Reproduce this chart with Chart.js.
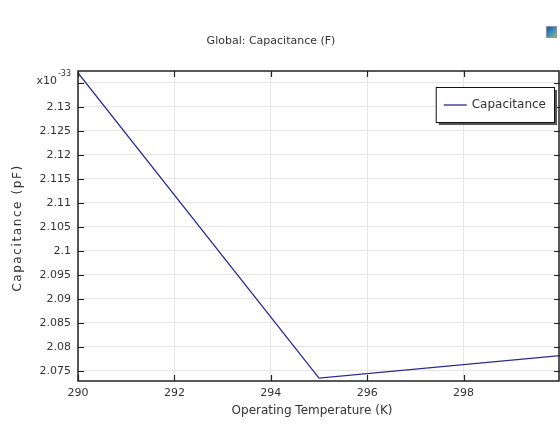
<!DOCTYPE html>
<html>
<head>
<meta charset="utf-8">
<script src="https://cdn.jsdelivr.net/npm/chart.js@4.4.1/dist/chart.umd.min.js"></script>
<style>
    html, body { margin: 0; padding: 0; background: #fff; }
    #wrap { position: relative; width: 560px; height: 427px; }
    #icon {
        position: absolute; left: 546px; top: 26px; width: 9px; height: 10px;
        border: 1px solid #8a96a8;
        background: linear-gradient(135deg, #1f4fa0 0%, #3a8fc0 50%, #8cc05a 100%);
    }
</style>
</head>
<body>
<div id="wrap">
    <canvas id="chart" width="560" height="427"></canvas>
    <div id="icon"></div>
</div>
<script>
// Data (values in units of 1e-33)
const temperatures = [290, 295, 300];
const capacitance = [2.1371, 2.0735, 2.0782];

const xTicks = [290, 292, 294, 296, 298, 300];
const yTicks = [2.075, 2.08, 2.085, 2.09, 2.095, 2.1, 2.105, 2.11, 2.115, 2.12, 2.125, 2.13, 2.135];

const chartTitle = "Global: Capacitance (F)";
const xTitle = "Operating Temperature (K)";
const yTitle = "Capacitance (pF)";
const seriesName = "Capacitance";

const FONT = "'DejaVu Sans', sans-serif";
const TEXT = "#333";

// frame, inward ticks, titles and legend (COMSOL style)
const decorPlugin = {
    id: "decor",
    afterDraw(chart) {
        const ctx = chart.ctx;
        const a = chart.chartArea;
        const xs = chart.scales.x;
        const ys = chart.scales.y;
        ctx.save();

        // inward tick marks on all four sides
        ctx.strokeStyle = "#222";
        ctx.lineWidth = 1.2;
        ctx.beginPath();
        xTicks.forEach((v) => {
            const px = Math.round(xs.getPixelForValue(v)) + 0.5;
            ctx.moveTo(px, a.bottom); ctx.lineTo(px, a.bottom - 6);
            ctx.moveTo(px, a.top); ctx.lineTo(px, a.top + 6);
        });
        yTicks.forEach((v) => {
            const py = Math.round(ys.getPixelForValue(v)) + 0.5;
            ctx.moveTo(a.left, py); ctx.lineTo(a.left + 6, py);
            ctx.moveTo(a.right, py); ctx.lineTo(a.right - 6, py);
        });
        ctx.stroke();

        // frame
        ctx.lineWidth = 1.5;
        ctx.strokeRect(a.left, a.top, a.right - a.left - 1, a.bottom - a.top);

        // exponent label at the top y tick
        const ey = ys.getPixelForValue(yTicks[yTicks.length - 1]);
        ctx.fillStyle = TEXT;
        ctx.textBaseline = "middle";
        ctx.textAlign = "right";
        ctx.font = "8px " + FONT;
        const supW = ctx.measureText("-33").width;
        ctx.fillText("-33", a.left - 7, ey - 9);
        ctx.font = "11px " + FONT;
        ctx.fillText("x10", a.left - 8 - supW, ey - 2);

        // chart title
        ctx.font = "11px " + FONT;
        ctx.textAlign = "center";
        ctx.fillText(chartTitle, 271, 41);

        // x axis title
        ctx.font = "12px " + FONT;
        ctx.fillText(xTitle, 312, 411);

        // y axis title, rotated and letter spaced
        ctx.save();
        ctx.translate(18, 228);
        ctx.rotate(-Math.PI / 2);
        ctx.font = "12px " + FONT;
        if ("letterSpacing" in ctx) ctx.letterSpacing = "1.6px";
        ctx.fillText(yTitle, 0, 0);
        ctx.restore();

        // legend box with shadow
        const ds = chart.data.datasets[0];
        ctx.font = "12px " + FONT;
        const tw = ctx.measureText(ds.label).width;
        const w = 8 + 23 + 5 + tw + 8;
        const h = 35;
        const lx = a.right - 6 - w;
        const ly = a.top + 16;
        ctx.fillStyle = "#555";
        ctx.fillRect(lx + 3, ly + 3, w, h);
        ctx.fillStyle = "#fff";
        ctx.fillRect(lx, ly, w, h);
        ctx.lineWidth = 1;
        ctx.strokeStyle = "#111";
        ctx.strokeRect(lx + 0.5, ly + 0.5, w, h);
        ctx.strokeStyle = ds.borderColor;
        ctx.lineWidth = 1.3;
        ctx.beginPath();
        ctx.moveTo(lx + 8, ly + h / 2 + 0.5);
        ctx.lineTo(lx + 31, ly + h / 2 + 0.5);
        ctx.stroke();
        ctx.fillStyle = TEXT;
        ctx.textAlign = "left";
        ctx.fillText(ds.label, lx + 36, ly + h / 2);

        ctx.restore();
    }
};

new Chart(document.getElementById("chart"), {
    type: "line",
    data: {
        datasets: [{
            label: seriesName,
            data: temperatures.map((t, i) => ({ x: t, y: capacitance[i] })),
            borderColor: "#2a2a90",
            borderWidth: 1.3,
            pointRadius: 0,
            tension: 0,
            fill: false
        }]
    },
    options: {
        responsive: false,
        animation: false,
        layout: { padding: { top: 71, right: 0, left: 0, bottom: 0 } },
        plugins: {
            legend: { display: false },
            title: { display: false },
            tooltip: { enabled: false }
        },
        scales: {
            x: {
                type: "linear",
                min: 290,
                max: 300,
                afterFit: (scale) => {
                    scale.height = 46;
                    scale.paddingRight = 0;
                    scale.paddingLeft = 0;
                },
                afterBuildTicks: (scale) => { scale.ticks = xTicks.map((v) => ({ value: v })); },
                grid: { color: "#e4e4e4", drawTicks: false },
                border: { display: false },
                ticks: {
                    padding: 6,
                    color: TEXT,
                    font: { family: FONT, size: 11 },
                    maxRotation: 0,
                    callback: (v) => (v === 300 ? "" : String(v))
                }
            },
            y: {
                type: "linear",
                min: 2.0729,
                max: 2.1375,
                afterFit: (scale) => { scale.width = 78; },
                afterBuildTicks: (scale) => { scale.ticks = yTicks.map((v) => ({ value: v })); },
                grid: { color: "#e4e4e4", drawTicks: false },
                border: { display: false },
                ticks: {
                    padding: 7,
                    color: TEXT,
                    font: { family: FONT, size: 11 },
                    callback: (v) => (Math.abs(v - 2.135) < 1e-6 ? "" : String(parseFloat(v.toFixed(3))))
                }
            }
        }
    },
    plugins: [decorPlugin]
});
</script>
</body>
</html>
